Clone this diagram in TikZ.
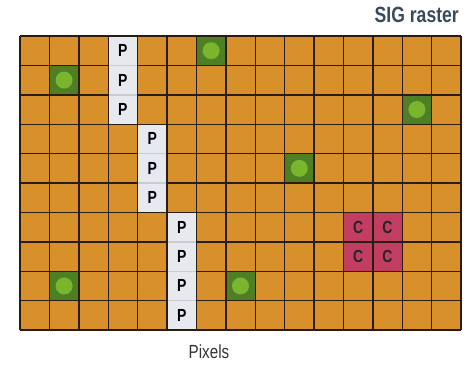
\documentclass[tikz,border=0pt]{standalone}
\usepackage{fontspec}
\setmainfont{Liberation Sans}
\newfontfamily\condfont[FakeStretch=0.8]{Liberation Sans}
\newfontfamily\condbold[FakeStretch=0.8]{Liberation Sans Bold}
\definecolor{cellorange}{HTML}{D8912A}
\definecolor{gridline}{HTML}{2A1C10}
\definecolor{greendark}{HTML}{4E7F25}
\definecolor{greenlight}{HTML}{7AB52E}
\definecolor{pinkcell}{HTML}{C23D62}
\definecolor{pcell}{HTML}{E6E9ED}
\definecolor{titleblue}{HTML}{3A4A5E}
\definecolor{labelgray}{HTML}{333333}
\begin{document}
\begin{tikzpicture}[x=1pt,y=-1pt,
  cellbox/.style={minimum width=29.4pt,minimum height=29.4pt,inner sep=0pt,outer sep=0pt},
  pbox/.style={cellbox,fill=pcell,font=\condbold\fontsize{17.5}{17.5}\selectfont,text=black},
  cbox/.style={cellbox,fill=pinkcell,font=\condbold\fontsize{17.5}{17.5}\selectfont,text=black!85},
  gbox/.style={cellbox,fill=greendark},
  dot/.style={circle,fill=greenlight,minimum size=17pt,inner sep=0pt}]
\useasboundingbox (0,0) rectangle (469,365);
\def\cw{29.4}
% background cells
\fill[cellorange] (20,36) rectangle (461,330);
% P cells
\foreach \c/\r [count=\i] in {3/0,3/1,3/2,4/3,4/4,4/5,5/6,5/7,5/8,5/9}{
  \node[pbox] (p\i) at ({20+(\c+0.5)*\cw},{36+(\r+0.5)*\cw}) {P};
}
% C cells
\foreach \c/\r [count=\i] in {11/6,12/6,11/7,12/7}{
  \node[cbox] (c\i) at ({20+(\c+0.5)*\cw},{36+(\r+0.5)*\cw}) {C};
}
% green cells
\foreach \c/\r [count=\i] in {6/0,1/1,13/2,9/4,1/8,7/8}{
  \node[gbox] (g\i) at ({20+(\c+0.5)*\cw},{36+(\r+0.5)*\cw}) {};
  \node[dot] (d\i) at (g\i.center) {};
}
% grid
\foreach \k in {0,...,15}{
  \draw[gridline,line width=1.4pt] ({20+\k*\cw},36) -- ({20+\k*\cw},330);
}
\foreach \k in {0,...,10}{
  \draw[gridline,line width=1.4pt] (20,{36+\k*\cw}) -- (461,{36+\k*\cw});
}
% lighter separators inside P columns
\foreach \a in {1,2,4,5,7,8,9}{
  \draw[gray!40,line width=1.4pt] ([xshift=0.7pt]p\a.south west) -- ([xshift=-0.7pt]p\a.south east);
}
% labels
\node[anchor=south east,inner sep=0pt,text=titleblue,font=\condbold\fontsize{22}{22}\selectfont] (title) at (459,23) {SIG raster};
\node[anchor=south,inner sep=0pt,text=labelgray,font=\condfont\fontsize{19}{19}\selectfont] (pixels) at (209,359) {Pixels};
\end{tikzpicture}
\end{document}
